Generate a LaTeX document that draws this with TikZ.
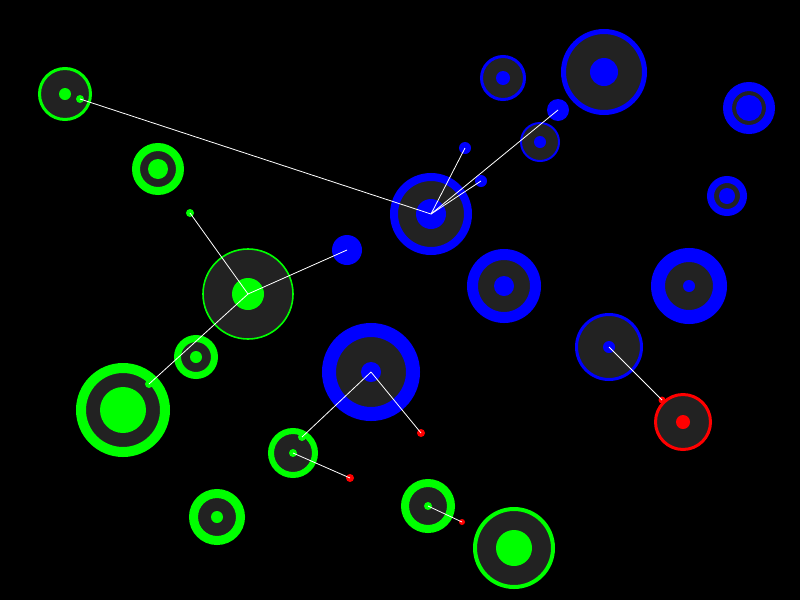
\documentclass[tikz,border=0pt]{standalone}
\usepackage{tikz}

\definecolor{cellgray}{HTML}{222222}
\definecolor{cgreen}{HTML}{00FF00}
\definecolor{cblue}{HTML}{0000FF}
\definecolor{cred}{HTML}{FF0000}

\tikzset{
  cell/.style={circle, fill=cellgray, inner sep=0pt},
  core/.style={circle, fill=#1, inner sep=0pt},
  link/.style={draw=white, line width=0.8pt},
}

\begin{document}
\begin{tikzpicture}[x=1pt, y=-1pt]
            \fill[black] (0,0) rectangle (800,600);
            \useasboundingbox (0,0) rectangle (800,600);

            % green cells
            \node[cell, draw=cgreen, line width=3pt, minimum size=51pt] (g1) at (65,94) {};
            \node[core=cgreen, minimum size=12pt] (g1core) at (65,94) {};
            \node[core=cgreen, minimum size=8pt] (g1tip) at (80,99) {};
            \node[cell, draw=cgreen, line width=8pt, minimum size=44pt] (g2) at (158,169) {};
            \node[core=cgreen, minimum size=20pt] (g2core) at (158,169) {};
            \node[core=cgreen, minimum size=8pt] (g3tip) at (190,213) {};
            \node[cell, draw=cgreen, line width=1.6pt, minimum size=90pt] (g4) at (248,294) {};
            \node[core=cgreen, minimum size=32pt] (g4core) at (248,294) {};
            \node[cell, draw=cgreen, line width=7pt, minimum size=37pt] (g5) at (196,357) {};
            \node[core=cgreen, minimum size=12pt] (g5core) at (196,357) {};
            \node[cell, draw=cgreen, line width=10pt, minimum size=84pt] (g6) at (123,410) {};
            \node[core=cgreen, minimum size=46pt] (g6core) at (123,410) {};
            \node[core=cgreen, minimum size=8pt] (g6tip) at (149,384) {};
            \node[cell, draw=cgreen, line width=6pt, minimum size=44pt] (g7) at (293,453) {};
            \node[core=cgreen, minimum size=8pt] (g7core) at (293,453) {};
            \node[core=cgreen, minimum size=8pt] (g7tip) at (302,437) {};
            \node[cell, draw=cgreen, line width=9pt, minimum size=47pt] (g8) at (217,517) {};
            \node[core=cgreen, minimum size=12pt] (g8core) at (217,517) {};
            \node[cell, draw=cgreen, line width=8pt, minimum size=46pt] (g9) at (428,506) {};
            \node[core=cgreen, minimum size=8pt] (g9core) at (428,506) {};
            \node[cell, draw=cgreen, line width=4pt, minimum size=78pt] (g10) at (514,548) {};
            \node[core=cgreen, minimum size=36pt] (g10core) at (514,548) {};

            % blue cells
            \node[cell, draw=cblue, line width=8pt, minimum size=74pt] (b1) at (431,214) {};
            \node[core=cblue, minimum size=30pt] (b1core) at (431,214) {};
            \node[cell, draw=cblue, line width=3pt, minimum size=43pt] (b2) at (503,78) {};
            \node[core=cblue, minimum size=14pt] (b2core) at (503,78) {};
            \node[cell, draw=cblue, line width=5pt, minimum size=81pt] (b3) at (604,72) {};
            \node[core=cblue, minimum size=28pt] (b3core) at (604,72) {};
            \node[cell, draw=cblue, line width=2pt, minimum size=38pt] (b4) at (540,142) {};
            \node[core=cblue, minimum size=12pt] (b4core) at (540,142) {};
            \node[cell, draw=cblue, line width=9pt, minimum size=43pt] (b5) at (749,108) {};
            \node[core=cblue, minimum size=26pt] (b5core) at (749,108) {};
            \node[cell, draw=cblue, line width=7pt, minimum size=33pt] (b6) at (727,196) {};
            \node[core=cblue, minimum size=16pt] (b6core) at (727,196) {};
            \node[cell, draw=cblue, line width=11pt, minimum size=63pt] (b7) at (504,286) {};
            \node[core=cblue, minimum size=20pt] (b7core) at (504,286) {};
            \node[cell, draw=cblue, line width=14pt, minimum size=62pt] (b8) at (689,286) {};
            \node[core=cblue, minimum size=12pt] (b8core) at (689,286) {};
            \node[cell, draw=cblue, line width=3pt, minimum size=65pt] (b9) at (609,347) {};
            \node[core=cblue, minimum size=12pt] (b9core) at (609,347) {};
            \node[cell, draw=cblue, line width=14pt, minimum size=84pt] (b10) at (371,372) {};
            \node[core=cblue, minimum size=20pt] (b10core) at (371,372) {};
            \node[core=cblue, minimum size=30pt] (bdot1) at (347,250) {};
            \node[core=cblue, minimum size=12pt] (bdot2) at (465,148) {};
            \node[core=cblue, minimum size=12pt] (bdot3) at (481,181) {};
            \node[core=cblue, minimum size=22pt] (bdot4) at (558,110) {};

            % red cell and dots
            \node[cell, draw=cred, line width=3pt, minimum size=55pt] (r1) at (683,422) {};
            \node[core=cred, minimum size=14pt] (r1core) at (683,422) {};
            \node[core=cred, minimum size=7pt] (r1tip) at (662,400) {};
            \node[core=cred, minimum size=8pt] (rdot1) at (350,478) {};
            \node[core=cred, minimum size=8pt] (rdot2) at (421,433) {};
            \node[core=cred, minimum size=6pt] (rdot3) at (462,522) {};

            % links
            \draw[link] (g1tip.center) -- (b1core.center);
            \draw[link] (g3tip.center) -- (g4core.center);
            \draw[link] (g4core.center) -- (bdot1.center);
            \draw[link] (g4core.center) -- (g6tip.center);
            \draw[link] (b1core.center) -- (bdot2.center);
            \draw[link] (b1core.center) -- (bdot3.center);
            \draw[link] (b1core.center) -- (bdot4.center);
            \draw[link] (b10core.center) -- (g7tip.center);
            \draw[link] (b10core.center) -- (rdot2.center);
            \draw[link] (g7core.center) -- (rdot1.center);
            \draw[link] (g9core.center) -- (rdot3.center);
            \draw[link] (b9core.center) -- (r1tip.center);
        \end{tikzpicture}
\end{document}
